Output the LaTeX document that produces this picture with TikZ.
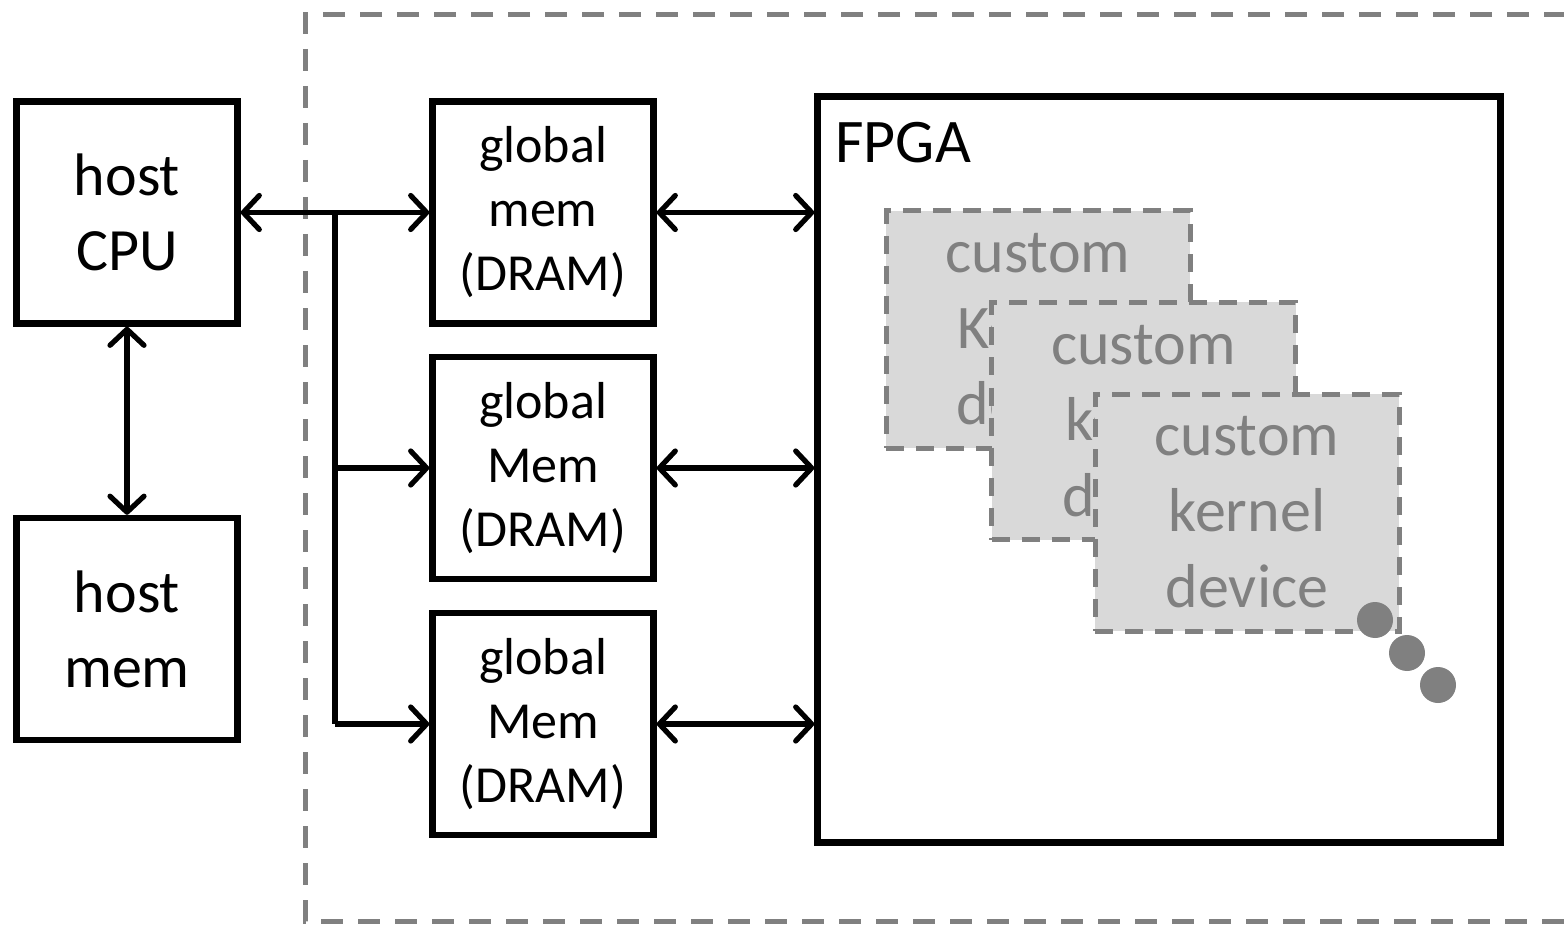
\documentclass[tikz,border=0pt]{standalone}
\usepackage{fontspec}
\setmainfont{Carlito}
\usetikzlibrary{arrows.meta}
\definecolor{dgray}{RGB}{128,128,128}
\definecolor{kfill}{RGB}{217,217,217}
\tikzset{
  blk/.style={draw=black, line width=3.2pt, minimum width=110.5pt, minimum height=111pt, inner sep=0pt, align=center},
  hosttxt/.style={font=\fontsize{30}{37.5}\selectfont},
  gmtxt/.style={font=\fontsize{26}{32}\selectfont},
  kbox/.style={draw=dgray, fill=kfill, line width=2.5pt, dash pattern=on 9pt off 6pt, minimum width=152pt, minimum height=118.5pt, inner sep=0pt, align=center, text=dgray, font=\fontsize{31}{38}\selectfont},
  conn/.style={line width=2.6pt},
  tip/.style={-{Straight Barb[length=8pt,width=17pt,round]}},
  dtip/.style={{Straight Barb[length=8pt,width=17pt,round]}-{Straight Barb[length=8pt,width=17pt,round]}},
  dot/.style={circle, fill=dgray, minimum size=18pt, inner sep=0pt}
}
\begin{document}
\begin{tikzpicture}[x=0.5pt,y=-0.5pt]
\useasboundingbox (0,0) rectangle (1564,925);
\clip (0,0) rectangle (1564,925);
% outer dashed region
\draw[dgray, line width=2.5pt, dash pattern=on 11pt off 7.5pt] (1640,15) -- (305,15) -- (305,921) -- (1640,921);
% nodes
\node[blk, hosttxt] (cpu) at (127,212.5) {host\\CPU};
\node[blk, hosttxt] (hmem) at (127,629) {host\\mem};
\node[blk, gmtxt] (gm1) at (543,212.5) {global\\mem\\(DRAM)};
\node[blk, gmtxt] (gm2) at (543,468) {global\\Mem\\(DRAM)};
\node[blk, gmtxt] (gm3) at (543,724) {global\\Mem\\(DRAM)};
\node[draw=black, line width=3.2pt, minimum width=341.5pt, minimum height=373pt, inner sep=0pt] (fpga) at (1159,469.5) {};
\node[anchor=west, font=\fontsize{31}{38}\selectfont, inner sep=0pt] (fpgalbl) at (835,143) {FPGA};
% kernels
\node[kbox] (k1) at (1038,329.5) {custom\\Kernel\\device};
\node[kbox] (k2) at (1143.5,421) {custom\\kernel\\device};
\node[kbox] (k3) at (1247,512.5) {custom\\kernel\\device};
\node[dot] (d1) at (1375,620) {};
\node[dot] (d2) at (1407,653) {};
\node[dot] (d3) at (1438,685) {};
% connectors
\coordinate (bj) at (335,212.5);
\draw[conn, dtip] (cpu.east) -- (gm1.west);
\draw[conn] (bj) -- (335,724);
\draw[conn, tip] (335,468) -- (gm2.west);
\draw[conn, tip] (335,724) -- (gm3.west);
\draw[conn, dtip] (cpu.south) -- (hmem.north);
\draw[conn, dtip] (gm1.east) -- (gm1.east -| fpga.west);
\draw[conn, dtip] (gm2.east) -- (gm2.east -| fpga.west);
\draw[conn, dtip] (gm3.east) -- (gm3.east -| fpga.west);
\end{tikzpicture}
\end{document}
